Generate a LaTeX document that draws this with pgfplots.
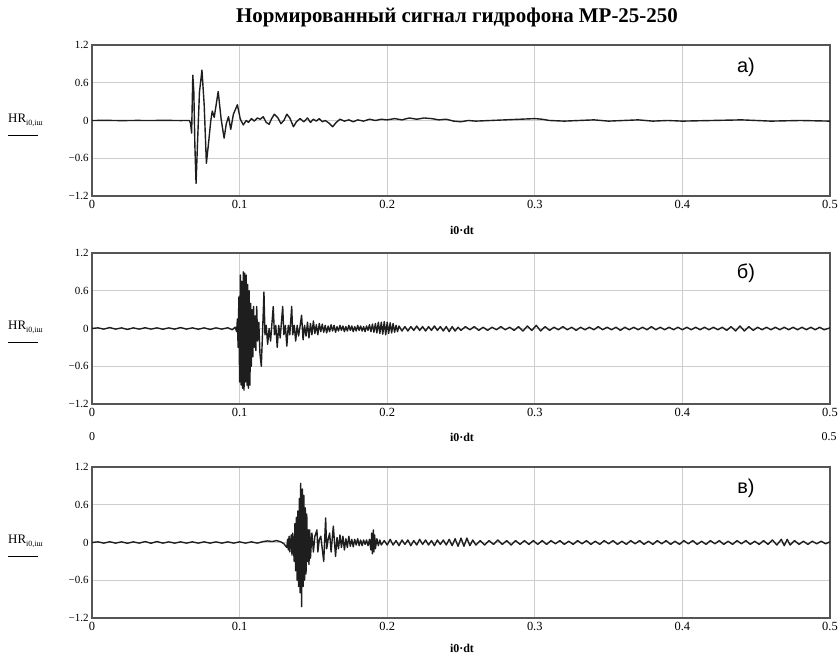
\documentclass[border=0pt]{standalone}
\usepackage{fontspec}
\setmainfont{Liberation Serif}
\newfontfamily\arial{Liberation Sans}
\usepackage{pgfplots}
\pgfplotsset{compat=1.18}
\definecolor{frame}{RGB}{85,85,85}
\definecolor{gridc}{RGB}{205,205,205}
\definecolor{sigc}{RGB}{30,30,30}
\pgfplotsset{panel/.style={
  scale only axis, width=738bp, height=151bp, anchor=south west,
  xmin=0, xmax=0.5, ymin=-1.2, ymax=1.2,
  xtick={0,0.1,0.2,0.3,0.4,0.5}, xticklabels={0,0.1,0.2,0.3,0.4,0.5},
  ytick={-1.2,-0.6,0,0.6,1.2}, yticklabels={−1.2,−0.6,0,0.6,1.2},
  xmajorgrids, ymajorgrids,
  grid style={gridc, line width=0.8bp},
  axis line style={frame, line width=1.8bp},
  tick style={draw=none},
  xticklabel style={font=\fontsize{12.5}{13}\selectfont, yshift=-1bp},
  yticklabel style={font=\fontsize{11}{12}\selectfont},
  clip=true,
}, sig/.style={sigc, line width=1.4bp, line join=round}}
\newcommand{\ylab}[1]{%
  \node[anchor=west, inner sep=0] at (8bp,#1) {\fontsize{13}{14}\selectfont HR\raisebox{-3bp}{\fontsize{8}{9}\selectfont i0,iш}};
  \draw[black, line width=0.9bp] (8bp,#1-15bp) -- (38bp,#1-15bp);}
\begin{document}
\begin{tikzpicture}
\useasboundingbox (0,0) rectangle (840bp,661bp);
\node at (457bp,644bp) {\fontsize{21}{23}\selectfont\bfseries Нормированный сигнал гидрофона МР-25-250};
% ---------- panel a
\begin{axis}[panel, at={(92bp,465bp)}]
\addplot[sig] coordinates {
(0,0)(0.01,0.002)(0.02,-0.002)(0.03,0.001)(0.04,0)(0.05,0.002)(0.06,-0.001)(0.066,0)
(0.0668,-0.05)(0.0675,-0.2)(0.0683,0.72)(0.069,0.45)(0.0697,-0.4)(0.0705,-1.0)(0.0715,-0.35)
(0.0728,0.45)(0.0745,0.8)(0.076,0.25)(0.0775,-0.68)(0.079,-0.35)(0.0805,0.0)(0.0815,0.15)
(0.0828,0.05)(0.0855,0.46)(0.0875,0.02)(0.0895,-0.28)(0.091,-0.05)(0.0925,0.06)(0.094,-0.14)
(0.0958,0.1)(0.0985,0.25)(0.1005,0.02)(0.1025,-0.07)(0.1045,0.0)(0.106,-0.03)(0.108,0.03)
(0.11,-0.01)(0.112,0.04)(0.114,0.02)(0.116,0.06)(0.118,-0.03)(0.12,-0.06)(0.1215,0.02)
(0.1235,0.1)(0.126,0.04)(0.128,-0.05)(0.13,0.0)(0.132,0.1)(0.134,0.04)(0.1365,-0.1)
(0.1385,-0.02)(0.141,0.03)(0.1435,-0.02)(0.146,0.04)(0.148,-0.03)(0.15,0.02)(0.152,-0.01)
(0.154,0.03)(0.156,-0.02)(0.158,0.0)(0.1605,-0.04)(0.163,-0.1)(0.1655,-0.03)(0.168,0.02)
(0.171,-0.01)(0.174,0.01)(0.177,-0.02)(0.18,0.01)(0.184,-0.01)(0.188,0.02)(0.192,0.0)
(0.196,0.02)(0.2,0.01)(0.205,0.03)(0.21,0.01)(0.215,0.04)(0.22,0.02)(0.225,0.04)(0.23,0.03)
(0.235,0.01)(0.24,0.02)(0.245,-0.01)(0.25,-0.02)(0.255,0.0)(0.26,-0.01)(0.27,0.0)(0.28,0.01)
(0.29,0.02)(0.3,0.03)(0.305,0.02)(0.31,0.0)(0.32,-0.01)(0.33,0.0)(0.34,0.01)(0.35,-0.01)
(0.36,0.0)(0.37,0.01)(0.38,-0.01)(0.39,0.0)(0.4,-0.01)(0.42,0.0)(0.44,0.01)(0.46,-0.01)
(0.48,0.0)(0.5,-0.01)};
\end{axis}
% ---------- panel b
\begin{axis}[panel, at={(92bp,257bp)}]
\addplot[sig] coordinates {
(0,0)(0.004,0.01)(0.008,-0.01)(0.012,0.015)(0.016,-0.01)(0.02,0.01)(0.024,-0.015)(0.028,0.01)
(0.032,-0.01)(0.036,0.012)(0.04,-0.01)(0.044,0.01)(0.048,-0.012)(0.052,0.01)(0.056,-0.01)
(0.06,0.015)(0.064,-0.01)(0.068,0.01)(0.072,-0.012)(0.076,0.01)(0.08,-0.015)(0.084,0.01)
(0.088,-0.01)(0.092,0.012)(0.095,-0.02)(0.097,0.02)
(0.098,-0.05)(0.0985,0.15)(0.099,-0.3)(0.0995,0.5)(0.1,-0.85)(0.1005,0.85)(0.101,-0.9)
(0.1015,0.75)(0.102,-0.95)(0.1025,0.9)(0.103,-0.98)(0.1035,0.88)(0.104,-0.85)(0.1045,0.85)
(0.105,-0.9)(0.1055,0.7)(0.106,-0.95)(0.1065,0.6)(0.107,-0.9)(0.1075,0.4)(0.108,-0.6)
(0.1085,0.3)(0.109,-0.45)(0.1095,0.35)(0.110,-0.3)(0.1105,0.2)(0.111,-0.35)(0.1116,0.35)
(0.1122,-0.2)(0.113,0.1)(0.1138,-0.4)(0.1147,-0.6)(0.1155,-0.1)(0.1165,0.58)(0.1172,-0.1)
(0.118,0.05)(0.119,-0.25)(0.12,0.0)(0.121,-0.2)(0.1228,0.35)(0.1236,-0.1)(0.1245,0.05)
(0.1255,-0.3)(0.1265,0.05)(0.1275,-0.15)(0.1292,0.35)(0.13,-0.1)(0.131,0.05)(0.132,-0.28)
(0.133,0.05)(0.134,-0.1)(0.1353,0.35)(0.136,-0.1)(0.137,0.05)(0.138,-0.2)(0.139,0.05)
(0.14,-0.12)(0.142,0.21)
(0.143,-0.18)(0.144,0.05)(0.145,-0.12)(0.146,0.1)(0.147,-0.15)(0.148,0.08)(0.149,-0.1)
(0.15,0.12)(0.151,-0.08)(0.152,0.06)(0.153,-0.1)(0.154,0.08)(0.155,-0.05)(0.156,0.07)
(0.157,-0.06)(0.158,0.05)(0.159,-0.07)(0.16,0.04)(0.161,-0.05)(0.162,0.06)(0.163,-0.04)
(0.164,0.05)(0.165,-0.06)(0.166,0.03)(0.167,-0.04)(0.168,0.05)(0.169,-0.03)(0.17,0.04)
(0.171,-0.05)(0.172,0.03)(0.173,-0.04)(0.174,0.05)(0.175,-0.03)(0.176,0.04)(0.177,-0.05)
(0.178,0.03)(0.179,-0.04)(0.18,0.05)(0.181,-0.03)(0.182,0.04)(0.183,-0.04)(0.184,0.03)
(0.185,-0.05)(0.186,0.04)(0.187,-0.03)(0.188,0.06)(0.189,-0.05)(0.19,0.07)(0.191,-0.06)
(0.192,0.08)(0.193,-0.07)(0.194,0.1)(0.195,-0.08)(0.196,0.1)(0.197,-0.09)(0.198,0.11)
(0.199,-0.1)(0.2,0.1)(0.201,-0.08)(0.202,0.09)(0.203,-0.07)(0.204,0.08)(0.205,-0.06)
(0.206,0.05)(0.207,-0.05)(0.208,0.04)(0.21,-0.04)(0.212,0.03)(0.214,-0.04)(0.216,0.03)
(0.218,-0.03)(0.22,0.04)(0.222,-0.03)(0.224,0.03)(0.226,-0.04)(0.228,0.03)(0.23,-0.03)
(0.232,0.04)(0.234,-0.03)(0.236,0.03)(0.238,-0.04)(0.24,0.03)(0.242,-0.05)(0.244,0.03)
(0.246,-0.04)(0.248,0.02)(0.25,-0.03)(0.253,0.03)(0.256,-0.02)(0.259,0.03)(0.262,-0.03)
(0.265,0.02)(0.268,-0.03)(0.271,0.02)(0.274,-0.02)(0.277,0.03)(0.28,-0.02)(0.283,0.02)
(0.286,-0.03)(0.289,0.03)(0.292,-0.04)(0.295,0.04)(0.298,-0.03)(0.301,0.05)(0.304,-0.04)
(0.307,0.03)(0.31,-0.03)(0.313,0.02)(0.316,-0.02)(0.319,0.03)(0.322,-0.02)(0.325,0.02)
(0.328,-0.03)(0.331,0.02)(0.334,-0.02)(0.337,0.02)(0.34,-0.02)(0.343,0.03)(0.346,-0.02)
(0.349,0.02)(0.352,-0.02)(0.355,0.02)(0.358,-0.03)(0.361,0.02)(0.364,-0.02)(0.367,0.02)
(0.37,-0.02)(0.373,0.02)(0.376,-0.02)(0.379,0.03)(0.382,-0.02)(0.385,0.02)(0.388,-0.02)
(0.391,0.02)(0.394,-0.02)(0.397,0.02)(0.4,-0.02)(0.403,0.02)(0.406,-0.02)(0.409,0.02)
(0.412,-0.02)(0.415,0.02)(0.418,-0.02)(0.421,0.02)(0.424,-0.02)(0.427,0.02)(0.43,-0.03)
(0.433,0.03)(0.436,-0.04)(0.439,0.04)(0.442,-0.04)(0.445,0.03)(0.448,-0.03)(0.451,0.02)
(0.454,-0.02)(0.457,0.02)(0.46,-0.02)(0.463,0.02)(0.466,-0.02)(0.469,0.02)(0.472,-0.02)
(0.475,0.02)(0.478,-0.02)(0.481,0.02)(0.484,-0.02)(0.487,0.02)(0.49,-0.02)(0.493,0.02)
(0.496,-0.02)(0.5,0.01)};
\end{axis}
% ---------- panel c
\begin{axis}[panel, at={(92bp,43bp)}]
\addplot[sig] coordinates {
(0,0)(0.004,0.01)(0.008,-0.01)(0.012,0.012)(0.016,-0.01)(0.02,0.01)(0.024,-0.012)(0.028,0.01)
(0.032,-0.01)(0.036,0.015)(0.04,-0.012)(0.044,0.015)(0.048,-0.01)(0.052,0.01)(0.056,-0.01)
(0.06,0.01)(0.064,-0.01)(0.068,0.01)(0.072,-0.01)(0.076,0.01)(0.08,-0.01)(0.084,0.01)
(0.088,-0.01)(0.092,0.01)(0.096,-0.01)(0.1,0.01)(0.104,-0.01)(0.108,0.01)(0.112,-0.01)
(0.116,0.015)(0.119,0.025)(0.122,0.015)(0.125,0.03)(0.128,0.01)(0.13,-0.02)
(0.132,-0.08)(0.1325,0.05)(0.133,-0.12)(0.1335,0.1)(0.134,-0.15)(0.135,0.12)(0.1355,-0.2)
(0.136,0.15)(0.137,-0.3)(0.1375,0.3)(0.138,-0.45)(0.1385,0.4)(0.139,-0.6)(0.1395,0.5)
(0.14,-0.7)(0.1405,0.7)(0.141,-0.8)(0.1414,0.94)(0.142,-1.02)(0.1425,0.85)(0.143,-0.7)
(0.1435,0.75)(0.144,-0.6)(0.1445,0.55)(0.145,-0.5)(0.1455,0.45)(0.146,-0.3)(0.1465,0.2)
(0.147,-0.35)(0.1475,0.2)(0.148,-0.25)(0.149,0.15)(0.15,-0.15)(0.151,0.1)(0.1524,0.2)
(0.153,-0.15)(0.154,0.05)(0.155,0.1)(0.156,-0.1)(0.157,-0.3)(0.1583,0.39)(0.159,-0.1)
(0.16,0.05)(0.161,0.15)(0.162,-0.15)(0.1635,0.26)(0.165,-0.22)
(0.166,0.08)(0.167,-0.1)(0.168,0.12)(0.169,-0.08)(0.17,0.1)(0.171,-0.12)(0.172,0.06)
(0.173,-0.08)(0.174,0.1)(0.175,-0.06)(0.176,0.05)(0.177,-0.07)(0.178,0.05)(0.179,-0.04)
(0.18,0.06)(0.181,-0.05)(0.182,0.04)(0.183,-0.05)(0.184,0.04)(0.185,-0.03)(0.186,0.04)
(0.187,-0.05)(0.188,0.05)(0.189,-0.12)(0.1895,0.15)(0.19,-0.18)(0.1906,0.2)(0.191,-0.15)
(0.1915,0.12)(0.192,-0.1)(0.193,0.06)(0.194,-0.05)(0.195,0.04)(0.196,-0.04)(0.198,0.03)
(0.2,-0.04)(0.202,0.05)(0.204,-0.04)(0.206,0.03)(0.208,-0.05)(0.21,0.04)(0.212,-0.03)
(0.214,0.04)(0.216,-0.05)(0.218,0.03)(0.22,-0.04)(0.222,0.05)(0.224,-0.03)(0.226,0.04)
(0.228,-0.04)(0.23,0.03)(0.232,-0.05)(0.234,0.04)(0.236,-0.03)(0.238,0.04)(0.24,-0.04)
(0.242,0.05)(0.244,-0.05)(0.246,0.06)(0.248,-0.06)(0.25,0.07)(0.252,-0.06)(0.254,0.07)
(0.256,-0.05)(0.258,0.04)(0.26,-0.04)(0.263,0.03)(0.266,-0.04)(0.269,0.03)(0.272,-0.03)
(0.275,0.04)(0.278,-0.03)(0.281,0.03)(0.284,-0.04)(0.287,0.03)(0.29,-0.03)(0.293,0.03)
(0.296,-0.03)(0.299,0.03)(0.302,-0.03)(0.305,0.03)(0.308,-0.03)(0.311,0.03)(0.314,-0.02)
(0.317,0.03)(0.32,-0.03)(0.323,0.02)(0.326,-0.03)(0.329,0.03)(0.332,-0.02)(0.335,0.03)
(0.338,-0.03)(0.341,0.02)(0.344,-0.03)(0.347,0.03)(0.35,-0.02)(0.353,0.03)(0.356,-0.03)
(0.359,0.02)(0.362,-0.03)(0.365,0.03)(0.368,-0.02)(0.371,0.03)(0.374,-0.03)(0.377,0.02)
(0.38,-0.03)(0.383,0.03)(0.386,-0.02)(0.389,0.03)(0.392,-0.03)(0.395,0.02)(0.398,-0.03)
(0.401,0.03)(0.404,-0.02)(0.407,0.03)(0.41,-0.03)(0.413,0.02)(0.416,-0.03)(0.419,0.03)
(0.422,-0.02)(0.425,0.03)(0.428,-0.03)(0.431,0.02)(0.434,-0.03)(0.437,0.03)(0.44,-0.02)
(0.443,0.03)(0.446,-0.03)(0.449,0.02)(0.452,-0.03)(0.455,0.03)(0.458,-0.03)(0.461,0.04)
(0.464,-0.04)(0.467,0.05)(0.469,-0.05)(0.471,0.05)(0.473,-0.04)(0.476,0.03)(0.479,-0.03)
(0.482,0.02)(0.485,-0.03)(0.488,0.02)(0.491,-0.02)(0.494,0.02)(0.497,-0.02)(0.5,0.01)};
\end{axis}
% labels
\ylab{541bp}\ylab{334bp}\ylab{120bp}
\node[font=\arial\fontsize{20}{22}\selectfont] at (746bp,594bp) {а)};
\node[font=\arial\fontsize{20}{22}\selectfont] at (746bp,388bp) {б)};
\node[font=\arial\fontsize{20}{22}\selectfont] at (746bp,173bp) {в)};
\node[font=\bfseries\fontsize{12}{13}\selectfont] at (462bp,431bp) {i0·dt};
\node[font=\bfseries\fontsize{12}{13}\selectfont] at (462bp,224bp) {i0·dt};
\node[font=\bfseries\fontsize{12}{13}\selectfont] at (462bp,13bp) {i0·dt};
\node[font=\fontsize{12}{13}\selectfont] at (92bp,224bp) {0};
\node[font=\fontsize{12}{13}\selectfont] at (829bp,224bp) {0.5};
\end{tikzpicture}
\end{document}
